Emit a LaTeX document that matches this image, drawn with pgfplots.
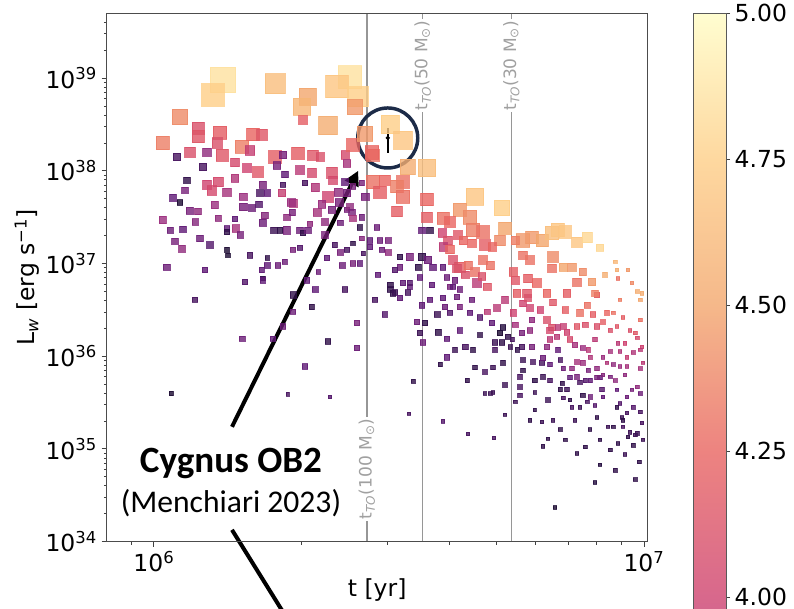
\documentclass[border=0pt]{standalone}
\usepackage{fontspec}
\setmainfont{DejaVu Sans}
\newfontfamily\calibri{Carlito}
\usepackage{pgfplots}
\usepackage{pgfplotstable}
\pgfplotsset{compat=1.18}
\usetikzlibrary{arrows.meta}

\definecolor{ringnavy}{RGB}{28,43,72}
\definecolor{toline}{RGB}{150,150,150}
\definecolor{totext}{RGB}{160,160,160}

% colour scale for the cluster markers (values 3.0 ... 5.0)
\pgfplotsset{colormap={clusters}{
  rgb255=(0,0,4) rgb255=(35,13,62) rgb255=(95,25,117) rgb255=(155,46,126)
  rgb255=(206,66,111) rgb255=(232,100,96) rgb255=(242,166,109)
  rgb255=(254,206,135) rgb255=(255,253,196)}}

% colour bar gradient (3.75 ... 5.0), semi-transparent look on white
\pgfdeclareverticalshading{cbarshade}{100bp}{%
  rgb(0bp)=(0.686,0.345,0.596); rgb(25bp)=(0.686,0.345,0.596);
  rgb(35bp)=(0.847,0.408,0.549); rgb(45bp)=(0.929,0.514,0.502);
  rgb(55bp)=(0.961,0.722,0.541); rgb(65bp)=(0.996,0.847,0.624);
  rgb(75bp)=(1,0.992,0.816); rgb(100bp)=(1,0.992,0.816)}

\newcommand\ticksize{\fontsize{17.6}{21}\selectfont}
\newcommand\tosize{\fontsize{12.8}{15}\selectfont}

% synthetic clusters: log10 age [yr], log10 wind luminosity [erg/s], colour value, marker side [px]
\pgfplotstableread{
lt lL c s
6.141 38.98 4.85 25
6.120 38.82 4.75 22
6.247 38.94 4.65 20
6.400 39.01 4.85 23
6.373 38.91 4.70 22
6.314 38.80 4.50 17
6.302 38.69 4.60 17
6.416 38.80 4.75 20
6.410 38.69 4.45 15
6.355 38.49 4.55 18
6.304 38.55 4.20 8
6.053 38.58 4.40 15
6.018 38.30 4.35 13
6.090 38.46 4.10 12
6.090 38.37 4.15 12
6.135 38.41 4.20 13
6.180 38.26 4.35 13
6.202 38.39 4.25 12
6.220 38.39 4.15 10
6.129 38.30 4.10 10
6.073 38.20 4.10 10
6.108 38.20 3.70 8
6.139 38.17 4.15 12
6.047 38.15 3.40 7
6.196 38.22 3.95 9
6.247 38.15 4.20 12
6.263 38.17 3.60 7
6.294 38.19 4.20 12
6.324 38.17 4.15 10
6.339 38.15 4.10 8
6.390 38.17 4.05 8
6.394 38.08 3.80 7
6.406 38.28 4.25 12
6.431 38.40 4.45 15
6.447 38.17 4.30 12
6.100 38.04 3.40 7
6.165 38.09 4.05 8
6.190 38.03 4.00 8
6.212 37.99 4.15 10
6.251 38.06 3.60 7
6.267 37.96 3.50 6
6.322 37.98 4.05 8
6.363 37.98 4.10 10
6.365 37.90 4.05 8
6.390 37.88 3.50 6
6.406 37.83 3.60 5
6.447 37.88 4.30 13
6.461 37.77 4.20 12
6.067 37.90 3.30 6
6.108 37.85 4.00 8
6.118 37.79 4.05 9
6.131 37.88 4.05 9
6.149 37.77 3.80 8
6.182 37.72 3.75 7
6.216 37.76 3.40 6
6.231 37.76 3.50 6
6.222 37.85 3.60 6
6.261 37.76 3.95 7
6.263 37.85 3.40 5
6.284 37.65 3.85 8
6.308 37.87 3.40 5
6.329 37.82 3.85 8
6.355 37.72 4.00 10
6.376 37.77 3.70 7
6.394 37.76 3.60 7
6.424 37.87 3.60 5
6.039 37.71 3.50 6
6.053 37.66 3.20 5
6.073 37.57 3.60 6
6.090 37.56 3.70 6
6.018 37.47 3.75 7
6.059 37.37 3.50 6
6.094 37.27 3.55 6
6.043 37.24 3.60 6
6.057 37.16 3.70 6
6.026 36.96 3.55 6
6.131 37.49 3.70 6
6.149 37.38 3.50 5
6.167 37.38 3.80 7
6.149 37.34 3.30 5
6.165 37.48 3.50 5
6.182 37.61 3.60 7
6.200 37.60 3.55 6
6.214 37.64 3.45 6
6.222 37.44 3.55 6
6.245 37.36 3.35 6
6.257 37.36 3.30 5
6.271 37.36 3.60 7
6.284 37.15 3.60 5
6.280 37.66 3.75 7
6.298 37.36 3.55 6
6.304 37.33 3.30 5
6.314 37.36 3.55 6
6.318 37.43 3.70 5
6.333 37.55 3.80 7
6.271 37.50 3.70 6
6.282 37.55 3.60 6
6.343 37.64 3.75 7
6.363 37.58 3.60 7
6.378 37.66 3.60 7
6.394 37.58 3.60 5
6.400 37.61 3.70 6
6.404 37.55 3.60 6
6.406 37.49 3.80 6
6.420 37.39 3.30 5
6.424 37.50 3.55 5
6.441 37.25 3.50 5
6.441 37.18 3.50 5
6.461 37.25 3.55 5
6.478 37.25 3.60 5
6.380 37.44 3.55 5
6.380 37.12 3.60 5
6.394 37.15 3.40 5
6.406 37.00 3.60 5
6.420 37.00 3.50 5
6.384 36.98 3.55 5
6.353 37.06 3.50 5
6.335 36.91 3.55 4
6.231 37.06 3.30 4
6.220 36.93 3.50 5
6.231 36.98 3.50 5
6.253 36.98 3.55 5
6.222 36.84 3.30 4
6.149 37.15 3.20 4
6.151 37.09 3.20 4
6.455 37.39 3.55 5
6.424 37.27 3.65 4
6.084 36.61 3.40 5
6.180 36.19 3.55 5
6.243 36.19 3.50 5
6.263 36.32 3.55 5
6.284 36.48 3.55 5
6.284 36.66 3.30 6
6.322 36.53 3.30 5
6.312 36.82 3.50 5
6.222 36.82 3.50 5
6.355 36.16 3.30 5
6.414 36.36 3.60 5
6.414 36.09 3.55 5
6.308 35.89 3.50 5
6.035 35.60 3.20 4
6.273 35.59 3.40 3
6.359 35.56 3.45 3
6.482 36.72 3.30 5
6.482 38.50 4.75 18
6.508 38.33 4.70 18
6.445 38.20 4.25 13
6.518 38.04 4.55 15
6.557 38.03 4.65 17
6.471 37.90 4.25 10
6.508 37.88 4.30 12
6.496 37.83 4.35 12
6.508 37.72 4.30 13
6.431 37.72 3.60 7
6.496 37.56 4.20 10
6.557 37.69 4.25 12
6.557 37.50 4.20 10
6.655 37.72 4.70 17
6.710 37.60 4.75 15
6.624 37.58 4.45 13
6.645 37.50 4.40 13
6.590 37.49 4.30 12
6.604 37.45 4.25 10
6.651 37.36 4.35 13
6.671 37.34 4.30 12
6.716 37.38 4.50 12
6.706 37.25 4.40 10
6.563 37.36 3.30 6
6.547 37.36 3.50 6
6.588 37.33 4.00 8
6.600 37.25 4.10 8
6.620 37.31 4.15 8
6.631 37.25 4.25 8
6.649 37.22 4.25 8
6.675 37.20 4.20 10
6.690 37.18 4.25 8
6.753 37.25 4.45 13
6.771 37.28 4.45 12
6.792 37.25 4.50 12
6.812 37.33 4.65 13
6.824 37.36 4.70 13
6.839 37.34 4.70 12
6.863 37.23 4.70 10
6.884 37.28 4.80 10
6.910 37.17 4.80 7
6.737 37.25 4.35 8
6.753 37.09 4.30 8
6.767 37.04 4.30 8
6.814 37.07 4.40 10
6.835 36.96 4.50 8
6.853 36.96 4.45 8
6.812 36.95 4.30 8
6.875 36.91 4.40 7
6.863 36.80 4.30 8
6.894 36.80 4.45 7
6.920 36.88 4.55 4
6.941 37.02 4.60 3
6.945 36.93 4.55 3
6.947 36.84 4.30 3
6.996 36.68 4.55 3
6.802 36.68 4.25 7
6.843 36.68 4.20 7
6.904 36.66 4.20 5
6.763 36.84 4.20 8
6.761 36.68 4.15 8
6.733 36.91 4.20 8
6.737 36.82 4.15 8
6.686 36.98 4.30 8
6.624 36.96 4.20 10
6.641 36.98 4.30 8
6.655 36.91 4.30 8
6.671 37.04 4.30 8
6.590 37.18 3.90 8
6.604 37.15 4.25 8
6.610 37.04 4.10 8
6.618 36.95 4.10 8
6.635 36.88 4.10 7
6.659 36.79 3.90 8
6.669 36.86 4.10 7
6.680 36.75 4.15 7
6.522 37.07 3.60 7
6.547 37.07 3.30 7
6.559 37.04 3.55 7
6.569 36.96 3.50 6
6.539 36.96 3.30 6
6.543 36.85 3.50 5
6.502 37.07 3.30 5
6.502 36.96 3.55 5
6.482 36.77 3.30 5
6.508 36.79 3.50 5
6.522 36.75 3.50 5
6.488 36.68 3.30 5
6.590 36.96 3.50 5
6.598 36.85 3.55 5
6.604 36.75 3.60 5
6.624 36.72 3.55 5
6.567 36.77 3.50 5
6.465 37.15 3.55 5
6.478 37.12 3.70 5
6.406 37.22 3.30 4
6.427 37.11 3.40 4
6.492 36.69 3.35 5
6.502 36.63 3.50 5
6.518 36.69 3.40 5
6.522 36.79 3.45 5
6.547 36.55 3.50 5
6.537 36.37 3.55 5
6.553 36.36 3.30 5
6.543 36.25 3.35 5
6.549 36.15 3.55 5
6.580 36.26 3.30 5
6.598 36.19 3.50 5
6.598 35.99 3.50 5
6.590 36.63 3.50 5
6.594 36.53 3.55 5
6.604 36.47 3.45 5
6.618 36.64 3.55 5
6.624 36.53 3.60 5
6.624 36.28 3.50 5
6.635 36.10 3.40 5
6.651 36.07 3.30 4
6.655 35.88 3.30 4
6.675 35.83 3.40 4
6.675 35.60 3.35 3
6.686 35.60 3.35 3
6.692 35.61 3.35 3
6.639 35.74 3.30 4
6.610 36.75 3.50 5
6.645 36.47 3.50 5
6.665 36.42 3.45 5
6.680 36.48 3.90 5
6.690 36.36 3.50 5
6.700 36.52 3.90 6
6.706 36.25 3.20 5
6.712 36.31 3.25 5
6.716 36.61 3.90 6
6.722 36.21 3.30 5
6.710 36.15 3.30 5
6.696 36.15 3.35 5
6.696 36.07 3.40 4
6.692 35.88 3.35 4
6.712 35.93 3.30 4
6.727 36.10 3.35 4
6.731 36.18 3.40 4
6.733 36.47 4.00 6
6.737 36.34 3.80 5
6.741 36.68 4.20 7
6.753 36.57 4.00 6
6.763 36.63 4.10 6
6.767 36.52 4.00 6
6.771 36.39 3.70 5
6.751 36.25 3.60 5
6.751 36.10 3.40 5
6.741 36.07 3.30 4
6.753 35.96 3.35 4
6.747 35.78 3.40 4
6.747 35.67 3.40 4
6.753 35.85 3.30 4
6.737 35.51 3.35 3
6.771 36.10 3.60 5
6.773 35.94 3.40 4
6.777 35.74 3.30 4
6.777 35.61 3.35 3
6.777 35.42 3.30 3
6.792 35.93 3.40 5
6.794 35.98 3.55 5
6.794 35.78 3.35 4
6.808 35.74 3.40 4
6.808 35.91 3.50 4
6.802 36.10 3.70 5
6.808 36.18 3.90 5
6.812 36.31 4.10 6
6.822 36.21 3.90 5
6.824 36.07 3.50 4
6.829 35.96 3.40 4
6.835 35.87 3.55 4
6.833 35.71 3.30 4
6.829 35.64 3.30 4
6.835 35.55 3.40 3
6.843 35.64 3.35 4
6.849 35.53 3.30 3
6.853 35.45 3.40 3
6.869 35.45 3.35 3
6.875 35.58 3.30 4
6.884 35.51 3.40 3
6.890 35.56 3.55 4
6.900 35.47 3.45 3
6.904 35.34 3.30 3
6.914 35.64 3.45 4
6.916 35.56 3.50 3
6.910 35.77 3.50 4
6.904 35.77 3.60 4
6.890 35.74 3.50 4
6.880 35.74 3.45 4
6.869 35.72 3.40 4
6.863 35.78 3.60 4
6.849 35.77 3.50 4
6.853 35.87 3.70 4
6.863 35.94 3.80 4
6.875 35.93 3.75 4
6.886 35.85 3.60 4
6.904 35.87 3.70 4
6.916 35.80 3.65 3
6.931 35.78 3.60 3
6.941 35.74 3.70 3
6.945 35.64 3.50 3
6.951 35.49 3.45 3
6.965 35.56 3.55 3
6.975 35.64 3.60 3
6.986 35.67 3.70 3
6.992 35.60 3.55 3
6.992 35.40 3.40 3
6.978 35.45 3.45 3
6.965 35.39 3.40 3
6.955 35.34 3.35 3
6.957 35.31 3.30 3
6.945 35.45 3.30 3
6.926 35.24 3.35 3
6.937 35.24 3.30 3
6.957 35.24 3.40 3
6.971 35.18 3.35 3
6.967 35.13 3.30 3
6.982 35.15 3.35 3
6.990 34.86 3.30 3
6.998 35.10 3.35 3
6.947 35.06 3.30 3
6.978 35.04 3.30 3
6.986 35.17 3.35 3
6.996 35.28 3.40 3
6.863 34.95 3.30 3
6.880 35.02 3.30 3
6.794 35.03 3.30 3
6.804 35.11 3.30 3
6.792 35.29 3.35 3
6.814 35.31 3.35 3
6.818 34.37 3.20 3
6.529 35.73 3.30 4
6.520 35.38 3.40 3
6.590 35.30 3.45 3
6.641 35.16 3.40 3
6.694 35.12 3.40 3
6.781 36.79 4.25 8
6.814 36.58 4.15 6
6.802 36.39 4.10 6
6.808 36.28 4.05 6
6.824 36.31 3.90 5
6.835 36.32 3.95 5
6.843 36.26 4.00 5
6.849 36.18 4.05 5
6.863 36.32 4.15 5
6.869 36.47 4.30 6
6.884 36.55 4.30 6
6.900 36.68 4.35 6
6.896 36.45 4.20 5
6.904 36.32 4.10 5
6.916 36.37 4.20 4
6.924 36.47 4.25 4
6.937 36.47 4.30 3
6.945 36.32 4.15 3
6.957 36.42 4.20 3
6.971 36.28 4.10 3
6.982 36.25 4.15 3
6.986 36.20 4.05 3
6.992 36.39 4.30 3
6.996 36.10 4.00 3
6.998 35.93 3.90 3
6.992 35.87 3.80 3
6.978 36.04 3.85 3
6.965 35.99 3.95 3
6.961 36.14 4.00 3
6.947 36.14 3.90 3
6.951 36.05 3.85 3
6.931 36.05 3.80 3
6.916 35.99 3.75 3
6.924 35.93 3.85 3
6.937 35.91 3.70 3
6.951 35.89 3.75 3
6.965 35.89 3.80 3
6.886 36.07 3.90 4
6.890 35.99 3.85 4
6.875 36.09 3.75 4
6.975 36.79 4.40 3
6.992 36.61 4.50 3
6.967 36.93 4.45 3
6.986 36.70 4.55 3
6.033 37.36 3.55 6
6.084 37.45 3.65 6
6.114 37.20 3.45 6
6.176 37.31 3.60 6
6.196 37.09 3.40 5
6.267 37.02 3.55 5
6.298 37.17 3.45 5
6.349 37.31 3.60 6
6.369 37.20 3.40 5
6.104 36.93 3.50 5
6.186 36.80 3.45 5
6.329 36.72 3.50 5
6.390 36.72 3.40 5
6.124 37.63 3.75 7
6.226 37.52 3.65 6
6.349 37.45 3.70 6
6.063 37.79 3.60 6
6.165 37.92 3.85 7
6.298 38.01 3.90 8
6.451 36.61 3.40 5
6.471 36.45 3.45 5
6.563 36.61 3.50 5
6.578 36.45 3.35 5
6.649 36.61 3.55 5
6.665 36.23 3.30 4
6.614 36.07 3.35 4
6.584 35.91 3.30 4
6.716 35.69 3.35 4
6.457 36.88 3.50 5
6.492 36.93 3.45 5
6.614 36.82 3.55 5
6.767 35.31 3.30 3
6.829 35.21 3.30 3
6.859 35.31 3.35 3
6.890 35.21 3.30 3
6.910 35.10 3.30 3
6.931 34.99 3.30 3
6.961 34.94 3.35 3
6.910 34.83 3.25 3
6.941 34.77 3.30 3
6.982 34.67 3.30 3
6.900 34.64 3.25 3
6.839 35.10 3.30 3
6.804 35.53 3.35 4
6.747 35.58 3.40 4
6.716 35.37 3.35 3
6.767 36.28 3.70 5
6.788 36.50 4.00 6
6.859 36.12 3.80 5
6.900 36.18 3.90 4
6.931 36.28 4.10 4
6.961 35.80 3.70 3
6.992 36.07 3.90 3
6.880 36.34 4.10 5
6.839 36.50 4.20 6
6.951 36.61 4.35 3
}\clusters

\begin{document}
\begin{tikzpicture}
\useasboundingbox (0,0) rectangle (595.5pt,456.75pt);
\clip (0,0) rectangle (595.5pt,456.75pt);

\begin{axis}[
  at={(80pt,50.5pt)}, anchor=south west,
  scale only axis, width=405.75pt, height=396.3pt,
  xmode=log, ymode=log,
  xmin=8.01e5, xmax=1.0174e7, ymin=1e34, ymax=5.01e39,
  xtick={1e6,1e7},
  xticklabels={10\textsuperscript{6},10\textsuperscript{7}},
  minor xtick={9e5,2e6,3e6,4e6,5e6,6e6,7e6,8e6,9e6},
  ytick={1e34,1e35,1e36,1e37,1e38,1e39},
  yticklabels={10\textsuperscript{34},10\textsuperscript{35},10\textsuperscript{36},
               10\textsuperscript{37},10\textsuperscript{38},10\textsuperscript{39}},
  minor ytick={2e34,3e34,4e34,5e34,6e34,7e34,8e34,9e34,
               2e35,3e35,4e35,5e35,6e35,7e35,8e35,9e35,
               2e36,3e36,4e36,5e36,6e36,7e36,8e36,9e36,
               2e37,3e37,4e37,5e37,6e37,7e37,8e37,9e37,
               2e38,3e38,4e38,5e38,6e38,7e38,8e38,9e38,
               2e39,3e39,4e39},
  tick align=outside, tick pos=left,
  major tick length=3.75pt, minor tick length=2.2pt,
  every tick/.style={black!75, line width=0.75pt},
  every minor tick/.append style={line width=0.55pt},
  axis line style={black!70, line width=0.75pt},
  tick label style={font=\ticksize, black},
  label style={font=\ticksize, black},
  xlabel={t [yr]},
  ylabel={L\textsubscript{\textit{w}} [erg s\textsuperscript{−1}]},
  xlabel style={at={(axis description cs:0.5,-0.0914)}, anchor=center},
  ylabel style={at={(axis description cs:-0.147,0.5)}, anchor=center},
  colormap name=clusters, point meta min=3, point meta max=5,
  clip=false, axis on top,
]
% cluster population: colour and square size per row
\addplot[scatter, only marks, mark=square*, point meta=explicit,
  scatter/use mapped color={draw=mapped color, fill=mapped color},
  visualization depends on={\thisrow{s} \as \msz},
  scatter/@pre marker code/.append style={/tikz/mark size=\msz*0.37pt+0.2pt},
  mark options={fill opacity=0.8, draw opacity=0.8, line width=0.5pt}]
  table[x expr={10^(\thisrow{lt})}, y expr={10^(\thisrow{lL})}, meta=c] {\clusters};

% turn-off times
\addplot[toline, line width=1.1pt, mark=none] coordinates {(2.72e6,1e34) (2.72e6,5.01e39)};
\addplot[toline, line width=1.1pt, mark=none] coordinates {(3.535e6,1e34) (3.535e6,5.01e39)};
\addplot[toline, line width=1.1pt, mark=none] coordinates {(5.36e6,1e34) (5.36e6,5.01e39)};
\node[rotate=90, fill=white, inner sep=1.2pt, text=totext, font=\tosize]
  at (axis cs:2.72e6,6.1e34) {t\textsubscript{\textit{TO}}(100 M\textsubscript{⊙})};
\node[rotate=90, fill=white, inner sep=1.2pt, text=totext, font=\tosize]
  at (axis cs:3.535e6,1.36e39) {t\textsubscript{\textit{TO}}(50 M\textsubscript{⊙})};
\node[rotate=90, fill=white, inner sep=1.2pt, text=totext, font=\tosize]
  at (axis cs:5.36e6,1.36e39) {t\textsubscript{\textit{TO}}(30 M\textsubscript{⊙})};

% Cygnus OB2 measurement
\addplot[black, line width=1.1pt, mark=none] coordinates {(3.0e6,1.57e38) (3.0e6,2.92e38)};
\addplot[black, only marks, mark=*, mark size=1.4pt] coordinates {(3.0e6,2.26e38)};
\draw[ringnavy, line width=2.6pt] (axis cs:3.0e6,2.26e38) circle[radius=22.5pt];

% annotation
\draw[black, line width=3pt, -{Triangle[length=11pt,width=11pt]}]
  (axis cs:1.443e6,1.73e35) -- (axis cs:2.61e6,1.0e38);
\draw[black, line width=3pt] (axis cs:1.443e6,1.34e34) -- (axis cs:1.99e6,8.7e32);
\node[anchor=base, font={\fontsize{27.8}{33}\calibri\bfseries}]
  at (axis cs:1.436e6,5.56e34) {Cygnus OB2};
\node[anchor=base, font={\fontsize{23.7}{28}\calibri}]
  at (axis cs:1.436e6,2.04e34) {(Menchiari 2023)};
\end{axis}

% colour bar
\begin{axis}[
  at={(519.75pt,446.8pt)}, anchor=north west,
  scale only axis, width=24.75pt, height=547.5pt,
  xmin=0, xmax=1, ymin=3.75, ymax=5,
  xtick=\empty,
  ytick={4,4.25,4.5,4.75,5},
  yticklabels={4.00,4.25,4.50,4.75,5.00},
  ytick pos=right, yticklabel pos=right, tick align=outside,
  major tick length=3pt,
  every tick/.style={black!75, line width=0.75pt},
  axis line style={black!65, line width=0.75pt},
  tick label style={font=\ticksize, black},
  axis on top,
]
\shade[shading=cbarshade] (axis cs:0,3.75) rectangle (axis cs:1,5);
\end{axis}
\end{tikzpicture}
\end{document}
